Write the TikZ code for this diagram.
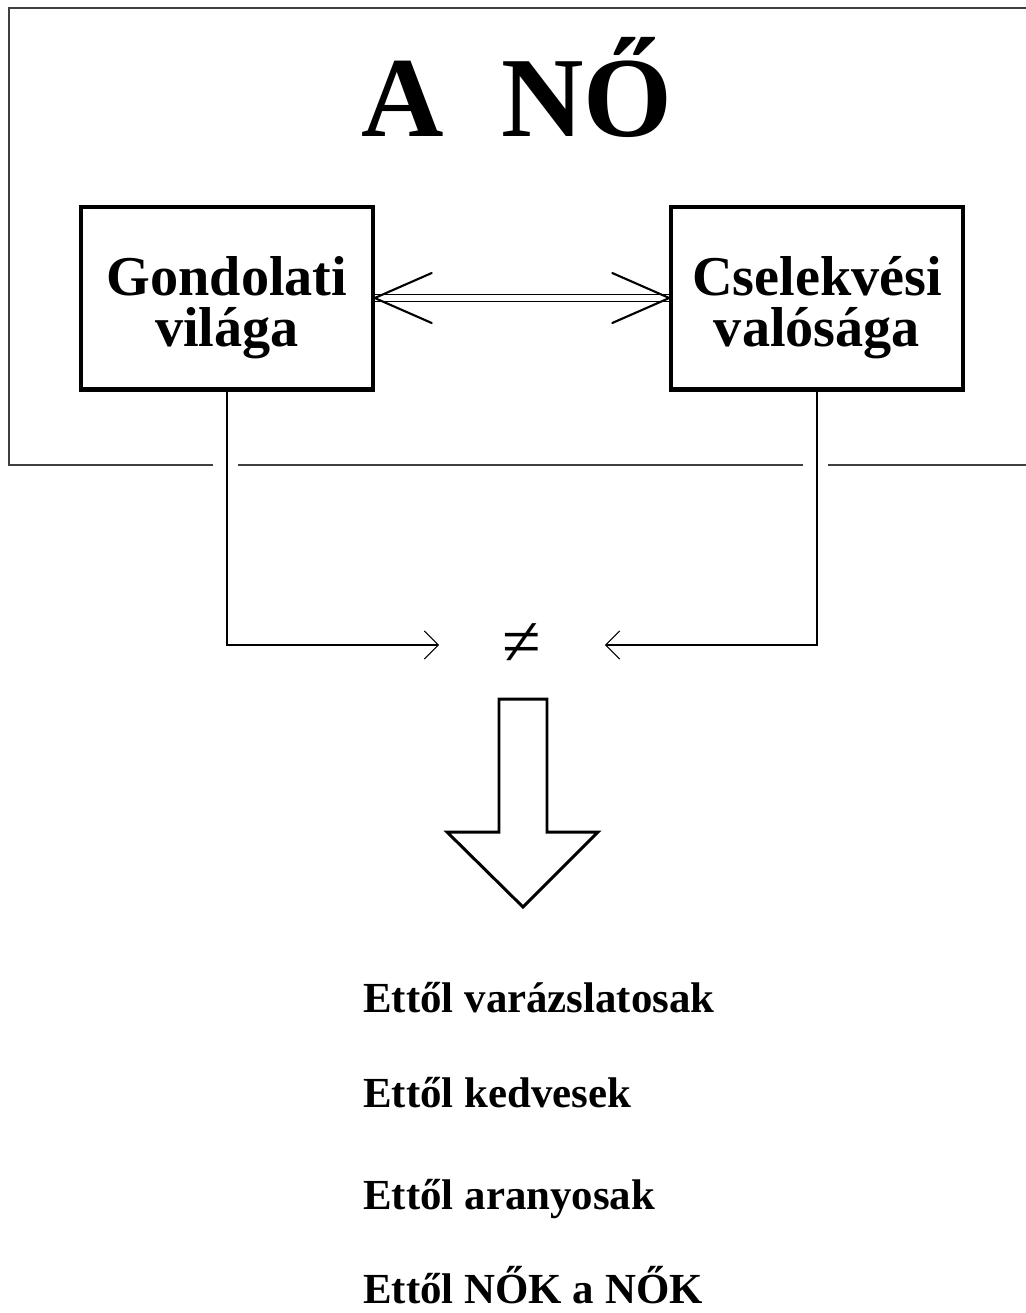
\documentclass[tikz,border=0pt]{standalone}
\usepackage{fontspec}
\setmainfont{Liberation Serif}
\usetikzlibrary{arrows.meta, positioning}
\tikzset{
  box/.style = {draw, line width=2.3pt, minimum width=5.83cm, minimum height=3.66cm,
    align=center, inner sep=0pt, text height=62pt, text depth=7pt,
    font=\fontsize{32}{29}\selectfont\bfseries},
  link/.style = {line width=0.85pt, -{Straight Barb[length=8pt, width=16pt, line width=0.6pt]}},
  chevron/.style = {line width=1.2pt, line cap=round, line join=miter},
  frame/.style = {line width=0.85pt, black!75},
  result/.style = {anchor=base west, inner sep=0pt, font=\fontsize{24.4}{28}\selectfont\bfseries}
}

\begin{document}
\begin{tikzpicture}[x=0.02cm, y=-0.02cm]

  \useasboundingbox (0,0) rectangle (1026,1313);

  % Frame
  \draw[frame] (1026,8) -- (9,8) -- (9,465) -- (213,465);
  \draw[frame] (238,465) -- (803,465);
  \draw[frame] (828,465) -- (1026,465);

  % Title
  \node[anchor=base, inner sep=0pt, font=\fontsize{65}{70}\selectfont\bfseries] (title) at (517,136) {A\hspace{0.5em}NŐ};

  % Boxes
  \node[box] (gond) at (227,298) {Gondolati\\világa};
  \node[box] (csel) at (817,298) {Cselekvési\\valósága};

  % Double arrow
  \draw[double, double distance=3.1pt, line width=0.85pt] (gond) -- (csel);
  \draw[chevron] ([shift={(57,-25)}]gond.east) -- (gond.east) -- ([shift={(57,25)}]gond.east);
  \draw[chevron] ([shift={(-57,-25)}]csel.west) -- (csel.west) -- ([shift={(-57,25)}]csel.west);

  % Not equal
  \node[minimum width=3.32cm, inner sep=0pt, outer sep=0pt, font=\fontsize{40}{40}\selectfont] (neq) at (522,645) {≠};
  \draw[link] (gond) |- (neq);
  \draw[link] (csel) |- (neq);

  % Block arrow
  \draw[line width=1.7pt] (499,699) -- (547,699) -- (547,832) -- (598,832) -- (523,907)
    -- (447,832) -- (499,832) -- cycle;

  % Results
  \node[result] (r1) at (363,1012) {Ettől varázslatosak};
  \node[result] (r2) at (363,1107) {Ettől kedvesek};
  \node[result] (r3) at (363,1209) {Ettől aranyosak};
  \node[result] (r4) at (363,1303) {Ettől NŐK a NŐK};

\end{tikzpicture}
\end{document}
